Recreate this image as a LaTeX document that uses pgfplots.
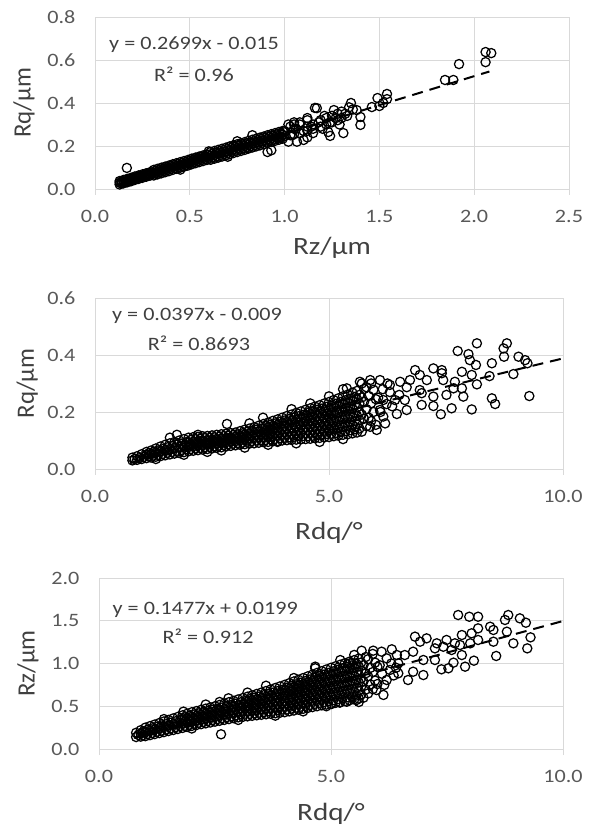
\documentclass[border=0pt]{standalone}
\usepackage{pgfplots}
\pgfplotsset{compat=1.18}
\usepackage{fontspec}
\setmainfont[FakeStretch=1.17]{Carlito}
\newfontfamily\ylabfont{Carlito}
\definecolor{gridc}{RGB}{217,217,217}
\definecolor{tickc}{RGB}{89,89,89}
\definecolor{titc}{RGB}{64,64,64}
\tikzset{eq/.style={font=\fontsize{19}{19}\selectfont, text=titc, anchor=center}}
\pgfplotsset{
  every axis y label/.style={at={(axis description cs:-0.15,0.5)}, rotate=90, anchor=center,
     font=\ylabfont\fontsize{25}{25}\selectfont, text=titc},
  every axis x label/.style={at={(axis description cs:0.5,0)}, anchor=base,
     font=\fontsize{25}{25}\selectfont, text=titc},
  panel/.style={
    scale only axis, anchor=south west,
    xmin=0, ymin=0,
    grid=major,
    major grid style={draw=gridc, line width=0.9bp},
    axis line style={draw=none},
    tick align=outside,
    xtick pos=left, ytick pos=left,
    ytick style={draw=none},
    xtick style={draw=gridc, line width=0.9bp},
    major tick length=6bp,
    ticklabel style={font=\fontsize{19}{19}\selectfont, text=tickc},
    xticklabel style={yshift=-12bp},
    yticklabel style={xshift=-10bp},
    /pgf/number format/fixed, /pgf/number format/fixed zerofill,
    /pgf/number format/precision=1, /pgf/number format/assume math mode=true,
  },
  pts/.style={only marks, mark=o, mark size=4.6bp, mark options={draw=black, line width=1.25bp}},
  trend/.style={black, line width=2bp, dash pattern=on 11bp off 7bp},
}
\begin{document}
\begin{tikzpicture}
\useasboundingbox (0,0) rectangle (590bp,829bp);
% ---------------- Panel 1 ----------------
\begin{axis}[panel, at={(95bp,640bp)}, width=474bp, height=172bp,
  xmax=2.5, ymax=0.8, xtick={0,0.5,1,1.5,2,2.5}, ytick={0,0.2,0.4,0.6,0.8},
  xlabel={Rz/μm}, ylabel={Rq/μm},
  xlabel style={yshift=-66bp}, ylabel style={at={(axis description cs:-0.150,0.5)}}]
\addplot[pts] coordinates {
(0.13,0.021)(0.13,0.029)(0.13,0.037)(0.14,0.027)(0.14,0.035)
(0.15,0.026)(0.15,0.034)(0.15,0.042)(0.16,0.033)(0.16,0.041)
(0.17,0.031)(0.17,0.039)(0.17,0.047)(0.18,0.038)(0.18,0.046)
(0.19,0.036)(0.19,0.044)(0.19,0.052)(0.20,0.043)(0.20,0.051)
(0.21,0.042)(0.21,0.050)(0.21,0.058)(0.22,0.048)(0.22,0.056)
(0.23,0.047)(0.23,0.055)(0.23,0.063)(0.24,0.053)(0.24,0.061)
(0.25,0.052)(0.25,0.060)(0.25,0.068)(0.26,0.059)(0.26,0.067)
(0.27,0.057)(0.27,0.065)(0.27,0.073)(0.28,0.064)(0.28,0.072)
(0.29,0.062)(0.29,0.070)(0.29,0.078)(0.30,0.069)(0.30,0.077)
(0.31,0.063)(0.31,0.076)(0.31,0.089)(0.32,0.072)(0.32,0.085)
(0.33,0.068)(0.33,0.081)(0.33,0.094)(0.34,0.077)(0.34,0.090)
(0.35,0.073)(0.35,0.086)(0.35,0.099)(0.36,0.082)(0.36,0.095)
(0.37,0.078)(0.37,0.091)(0.37,0.104)(0.38,0.087)(0.38,0.100)
(0.39,0.083)(0.39,0.096)(0.39,0.109)(0.40,0.093)(0.40,0.106)
(0.41,0.089)(0.41,0.102)(0.41,0.115)(0.42,0.098)(0.42,0.111)
(0.43,0.094)(0.43,0.107)(0.43,0.120)(0.44,0.103)(0.44,0.116)
(0.45,0.099)(0.45,0.112)(0.45,0.125)(0.46,0.108)(0.46,0.121)
(0.47,0.104)(0.47,0.117)(0.47,0.130)(0.48,0.113)(0.48,0.126)
(0.49,0.109)(0.49,0.122)(0.49,0.135)(0.50,0.119)(0.50,0.132)
(0.51,0.115)(0.51,0.128)(0.51,0.141)(0.52,0.124)(0.52,0.137)
(0.53,0.120)(0.53,0.133)(0.53,0.146)(0.54,0.129)(0.54,0.142)
(0.55,0.125)(0.55,0.138)(0.55,0.151)(0.56,0.134)(0.56,0.147)
(0.57,0.130)(0.57,0.143)(0.57,0.156)(0.58,0.139)(0.58,0.152)
(0.59,0.135)(0.59,0.148)(0.59,0.161)(0.60,0.145)(0.60,0.158)
(0.61,0.136)(0.61,0.154)(0.61,0.172)(0.62,0.147)(0.62,0.165)
(0.63,0.141)(0.63,0.159)(0.63,0.177)(0.64,0.152)(0.64,0.170)
(0.65,0.146)(0.65,0.164)(0.65,0.182)(0.66,0.158)(0.66,0.176)
(0.67,0.151)(0.67,0.169)(0.67,0.187)(0.68,0.163)(0.68,0.181)
(0.69,0.156)(0.69,0.174)(0.69,0.192)(0.70,0.168)(0.70,0.186)
(0.71,0.162)(0.71,0.180)(0.71,0.198)(0.72,0.173)(0.72,0.191)
(0.73,0.167)(0.73,0.185)(0.73,0.203)(0.74,0.178)(0.74,0.196)
(0.75,0.172)(0.75,0.190)(0.75,0.208)(0.76,0.184)(0.76,0.202)
(0.77,0.177)(0.77,0.195)(0.77,0.213)(0.78,0.189)(0.78,0.207)
(0.79,0.182)(0.79,0.200)(0.79,0.218)(0.80,0.194)(0.80,0.212)
(0.81,0.188)(0.81,0.206)(0.81,0.224)(0.82,0.199)(0.82,0.217)
(0.83,0.193)(0.83,0.211)(0.83,0.229)(0.84,0.204)(0.84,0.222)
(0.85,0.198)(0.85,0.216)(0.85,0.234)(0.86,0.210)(0.86,0.228)
(0.87,0.203)(0.87,0.221)(0.87,0.239)(0.88,0.215)(0.88,0.233)
(0.89,0.208)(0.89,0.226)(0.89,0.244)(0.90,0.220)(0.90,0.238)
(0.91,0.214)(0.91,0.232)(0.91,0.250)(0.92,0.225)(0.92,0.243)
(0.93,0.219)(0.93,0.237)(0.93,0.255)(0.94,0.230)(0.94,0.248)
(0.95,0.224)(0.95,0.242)(0.95,0.260)(0.96,0.236)(0.96,0.254)
(0.97,0.229)(0.97,0.247)(0.97,0.265)(0.98,0.241)(0.98,0.259)
(0.99,0.234)(0.99,0.252)(0.99,0.270)(1.00,0.246)(1.00,0.264)
(0.60,0.175)(0.45,0.090)(0.75,0.222)(0.70,0.150)
(1.03,0.250)(1.03,0.290)(1.05,0.255)(1.05,0.300)(1.05,0.280)
(1.08,0.26)(1.08,0.31)(1.12,0.27)(1.12,0.29)(1.12,0.32)(1.15,0.28)(1.15,0.30)(1.19,0.29)(1.19,0.32)
(1.22,0.30)(1.22,0.33)(1.25,0.31)(1.25,0.34)(1.28,0.32)(1.28,0.35)(1.30,0.33)(1.32,0.35)
(0.168,0.098)
(2.06,0.637)(2.09,0.632)(2.06,0.59)(1.92,0.581)(1.846,0.507)(1.89,0.507)
(1.49,0.423)(1.54,0.442)(1.54,0.418)(1.46,0.381)(1.52,0.40)(1.50,0.386)
(1.35,0.40)(1.34,0.38)(1.40,0.335)(1.40,0.298)(1.38,0.367)(1.31,0.26)(1.24,0.247)(1.23,0.265)
(1.17,0.376)(1.26,0.367)(1.10,0.228)(1.065,0.22)(1.16,0.377)(0.91,0.172)(0.93,0.18)(1.02,0.22)(0.83,0.25)
(1.08,0.30)(1.10,0.27)(1.12,0.33)(1.14,0.29)(1.15,0.26)(1.18,0.31)(1.20,0.28)(1.21,0.34)(1.24,0.31)
(1.27,0.33)(1.29,0.30)(1.30,0.36)(1.33,0.34)(1.36,0.37)(1.12,0.24)(1.06,0.28)(1.04,0.25)(1.00,0.27)
(0.97,0.24)(1.02,0.30)(1.05,0.31)
};
\addplot[trend] coordinates {(0.13,0.0201)(2.08,0.5464)};
\node[eq] at (rel axis cs:0.209,0.837) {y = 0.2699x - 0.015};
\node[eq] at (rel axis cs:0.209,0.669) {R² = 0.96};
\end{axis}
% ---------------- Panel 2 ----------------
\begin{axis}[panel, at={(95bp,360bp)}, width=468bp, height=171bp,
  xmax=10, ymax=0.6, xtick={0,5,10}, ytick={0,0.2,0.4,0.6},
  xlabel={Rdq/°}, ylabel={Rq/μm},
  xlabel style={yshift=-71bp}, ylabel style={at={(axis description cs:-0.145,0.5)}}]
\addplot[pts] coordinates {
(0.8,0.030)(0.8,0.040)(0.85,0.035)
(0.9,0.032)(0.9,0.045)(0.95,0.038)
(1.0,0.035)(1.0,0.052)(1.05,0.043)
(1.1,0.038)(1.1,0.050)(1.1,0.060)(1.15,0.044)(1.15,0.055)
(1.2,0.040)(1.2,0.053)(1.2,0.065)(1.25,0.047)(1.25,0.060)
(1.3,0.043)(1.3,0.058)(1.3,0.072)(1.35,0.050)(1.35,0.065)
(1.4,0.045)(1.4,0.062)(1.4,0.079)(1.45,0.053)(1.45,0.070)
(1.5,0.048)(1.5,0.066)(1.5,0.085)(1.55,0.057)(1.55,0.076)
(1.6,0.051)(1.6,0.070)(1.6,0.090)(1.65,0.060)(1.65,0.080)
(1.7,0.054)(1.7,0.074)(1.7,0.095)(1.75,0.064)(1.75,0.085)
(1.8,0.056)(1.8,0.078)(1.8,0.100)(1.85,0.067)(1.85,0.089)
(1.9,0.059)(1.9,0.082)(1.9,0.105)(1.95,0.070)(1.95,0.094)
(2.0,0.062)(2.0,0.078)(2.0,0.094)(2.0,0.110)(2.05,0.070)(2.05,0.086)(2.05,0.102)
(2.1,0.064)(2.1,0.080)(2.1,0.096)(2.1,0.112)(2.15,0.072)(2.15,0.088)(2.15,0.104)
(2.2,0.066)(2.2,0.082)(2.2,0.098)(2.2,0.113)(2.25,0.074)(2.25,0.090)(2.25,0.106)
(2.3,0.068)(2.3,0.084)(2.3,0.100)(2.3,0.115)(2.35,0.076)(2.35,0.092)(2.35,0.108)
(2.4,0.070)(2.4,0.085)(2.4,0.101)(2.4,0.116)(2.45,0.078)(2.45,0.093)(2.45,0.109)
(2.5,0.072)(2.5,0.087)(2.5,0.103)(2.5,0.118)(2.55,0.080)(2.55,0.095)(2.55,0.111)
(2.6,0.074)(2.6,0.089)(2.6,0.105)(2.6,0.120)(2.65,0.082)(2.65,0.097)(2.65,0.113)
(2.7,0.076)(2.7,0.091)(2.7,0.107)(2.7,0.122)(2.75,0.084)(2.75,0.099)(2.75,0.115)
(2.8,0.079)(2.8,0.094)(2.8,0.109)(2.8,0.124)(2.85,0.087)(2.85,0.102)(2.85,0.117)
(2.9,0.081)(2.9,0.096)(2.9,0.111)(2.9,0.126)(2.95,0.089)(2.95,0.104)(2.95,0.119)
(3.0,0.083)(3.0,0.098)(3.0,0.113)(3.0,0.128)(3.05,0.091)(3.05,0.106)(3.05,0.121)
(3.1,0.085)(3.1,0.101)(3.1,0.117)(3.1,0.133)(3.15,0.093)(3.15,0.109)(3.15,0.125)
(3.2,0.087)(3.2,0.104)(3.2,0.121)(3.2,0.138)(3.25,0.096)(3.25,0.113)(3.25,0.130)
(3.3,0.089)(3.3,0.107)(3.3,0.125)(3.3,0.142)(3.35,0.098)(3.35,0.116)(3.35,0.134)
(3.4,0.090)(3.4,0.109)(3.4,0.128)(3.4,0.147)(3.45,0.100)(3.45,0.119)(3.45,0.138)
(3.5,0.092)(3.5,0.112)(3.5,0.132)(3.5,0.152)(3.55,0.102)(3.55,0.122)(3.55,0.142)
(3.6,0.094)(3.6,0.110)(3.6,0.126)(3.6,0.142)(3.6,0.158)(3.65,0.102)(3.65,0.118)(3.65,0.134)(3.65,0.150)
(3.7,0.095)(3.7,0.112)(3.7,0.129)(3.7,0.146)(3.7,0.163)(3.75,0.104)(3.75,0.121)(3.75,0.138)(3.75,0.155)
(3.8,0.097)(3.8,0.115)(3.8,0.133)(3.8,0.151)(3.8,0.169)(3.85,0.106)(3.85,0.124)(3.85,0.142)(3.85,0.160)
(3.9,0.098)(3.9,0.117)(3.9,0.136)(3.9,0.155)(3.9,0.174)(3.95,0.108)(3.95,0.127)(3.95,0.146)(3.95,0.165)
(4.0,0.100)(4.0,0.120)(4.0,0.140)(4.0,0.160)(4.0,0.180)(4.05,0.110)(4.05,0.130)(4.05,0.150)(4.05,0.170)
(4.1,0.101)(4.1,0.122)(4.1,0.143)(4.1,0.165)(4.1,0.186)(4.15,0.111)(4.15,0.132)(4.15,0.154)(4.15,0.175)
(4.2,0.102)(4.2,0.124)(4.2,0.146)(4.2,0.169)(4.2,0.191)(4.25,0.113)(4.25,0.135)(4.25,0.157)(4.25,0.180)
(4.3,0.103)(4.3,0.126)(4.3,0.150)(4.3,0.173)(4.3,0.197)(4.35,0.115)(4.35,0.138)(4.35,0.162)(4.35,0.185)
(4.4,0.104)(4.4,0.128)(4.4,0.153)(4.4,0.177)(4.4,0.202)(4.45,0.116)(4.45,0.141)(4.45,0.165)(4.45,0.190)
(4.5,0.105)(4.5,0.126)(4.5,0.146)(4.5,0.167)(4.5,0.187)(4.5,0.208)(4.55,0.115)(4.55,0.136)(4.55,0.156)(4.55,0.177)(4.55,0.197)
(4.6,0.106)(4.6,0.127)(4.6,0.149)(4.6,0.170)(4.6,0.192)(4.6,0.213)(4.65,0.117)(4.65,0.138)(4.65,0.160)(4.65,0.181)(4.65,0.203)
(4.7,0.108)(4.7,0.130)(4.7,0.152)(4.7,0.175)(4.7,0.197)(4.7,0.219)(4.75,0.119)(4.75,0.141)(4.75,0.164)(4.75,0.186)(4.75,0.208)
(4.8,0.109)(4.8,0.132)(4.8,0.155)(4.8,0.178)(4.8,0.201)(4.8,0.224)(4.85,0.120)(4.85,0.143)(4.85,0.166)(4.85,0.189)(4.85,0.212)
(4.9,0.111)(4.9,0.135)(4.9,0.159)(4.9,0.182)(4.9,0.206)(4.9,0.230)(4.95,0.123)(4.95,0.147)(4.95,0.170)(4.95,0.194)(4.95,0.218)
(5.0,0.112)(5.0,0.137)(5.0,0.161)(5.0,0.186)(5.0,0.210)(5.0,0.235)(5.05,0.124)(5.05,0.149)(5.05,0.173)(5.05,0.198)(5.05,0.222)
(5.1,0.115)(5.1,0.140)(5.1,0.166)(5.1,0.191)(5.1,0.217)(5.1,0.242)(5.15,0.127)(5.15,0.153)(5.15,0.178)(5.15,0.204)(5.15,0.229)
(5.2,0.117)(5.2,0.143)(5.2,0.169)(5.2,0.196)(5.2,0.222)(5.2,0.248)(5.25,0.130)(5.25,0.156)(5.25,0.183)(5.25,0.209)(5.25,0.235)
(5.3,0.120)(5.3,0.147)(5.3,0.174)(5.3,0.201)(5.3,0.228)(5.3,0.255)(5.35,0.133)(5.35,0.160)(5.35,0.187)(5.35,0.214)(5.35,0.241)
(5.4,0.122)(5.4,0.150)(5.4,0.178)(5.4,0.205)(5.4,0.233)(5.4,0.261)(5.45,0.136)(5.45,0.164)(5.45,0.191)(5.45,0.219)(5.45,0.247)
(5.5,0.125)(5.5,0.154)(5.5,0.182)(5.5,0.211)(5.5,0.239)(5.5,0.268)(5.55,0.139)(5.55,0.168)(5.55,0.196)(5.55,0.225)(5.55,0.253)
(5.6,0.128)(5.6,0.157)(5.6,0.186)(5.6,0.216)(5.6,0.245)(5.6,0.274)(5.65,0.142)(5.65,0.172)(5.65,0.201)(5.65,0.230)(5.65,0.260)
(5.7,0.131)(5.7,0.191)(5.7,0.251)(5.75,0.176)(5.75,0.236)(5.75,0.281)
(5.8,0.150)(5.8,0.210)(5.8,0.287)(5.85,0.180)(5.85,0.256)
(5.9,0.168)(5.9,0.231)(5.9,0.300)(5.95,0.200)(5.95,0.278)
(6.0,0.155)(6.0,0.245)
(6.05,0.250)(6.10,0.200)(6.15,0.280)(6.20,0.160)(6.35,0.220)(6.25,0.300)
(1.6,0.110)(1.75,0.120)(2.2,0.120)(2.82,0.158)(3.3,0.160)(3.59,0.180)(2.4,0.060)(3.7,0.085)(4.3,0.090)
(4.8,0.095)(5.3,0.105)(4.2,0.210)(4.6,0.230)(5.0,0.255)(5.3,0.280)(5.7,0.300)(2.7,0.065)(3.2,0.075)
(1.3,0.035)(1.9,0.050)(3.9,0.095)
(8.16,0.441)(8.80,0.441)(8.73,0.423)(7.75,0.414)(7.98,0.403)(8.01,0.382)(8.14,0.365)(9.05,0.394)
(9.19,0.382)(9.24,0.371)(8.74,0.394)(8.48,0.371)(8.94,0.333)(8.43,0.326)(8.16,0.297)(7.84,0.341)
(8.05,0.330)(9.28,0.256)(8.48,0.248)(8.55,0.228)(8.05,0.209)(7.62,0.213)(7.39,0.192)(7.23,0.221)
(6.98,0.225)(6.66,0.207)(6.45,0.193)(6.23,0.228)(7.69,0.306)(7.87,0.254)(7.66,0.283)(7.41,0.347)
(7.41,0.336)(7.23,0.353)(7.09,0.312)(6.94,0.277)(6.84,0.347)(6.94,0.330)(7.51,0.260)(7.44,0.312)
(7.23,0.254)(6.98,0.266)(6.66,0.287)(6.73,0.312)(6.52,0.306)(6.62,0.242)(6.41,0.242)(6.30,0.295)
(6.09,0.312)(5.88,0.312)(5.66,0.306)(5.38,0.283)(6.16,0.242)(6.09,0.207)(6.02,0.137)(5.88,0.148)
(6.16,0.184)(5.56,0.148)(5.02,0.137)(7.84,0.283)(6.50,0.260)(6.30,0.270)
};
\addplot[trend] coordinates {(0.75,0.0208)(10,0.388)};
\node[eq] at (rel axis cs:0.218,0.895) {y = 0.0397x - 0.009};
\node[eq] at (rel axis cs:0.222,0.737) {R² = 0.8693};
\end{axis}
% ---------------- Panel 3 ----------------
\begin{axis}[panel, at={(99bp,80bp)}, width=464bp, height=171bp,
  xmax=10, ymax=2, xtick={0,5,10}, ytick={0,0.5,1,1.5,2},
  xlabel={Rdq/°}, ylabel={Rz/μm},
  xlabel style={yshift=-71bp}, ylabel style={at={(axis description cs:-0.153,0.5)}}]
\addplot[pts] coordinates {
(0.8,0.14)(0.8,0.19)(0.85,0.165)
(0.9,0.145)(0.9,0.18)(0.9,0.22)(0.95,0.16)(0.95,0.20)
(1.0,0.15)(1.0,0.20)(1.0,0.25)(1.05,0.175)(1.05,0.225)
(1.1,0.162)(1.1,0.215)(1.1,0.268)(1.15,0.188)(1.15,0.241)
(1.2,0.174)(1.2,0.230)(1.2,0.286)(1.25,0.202)(1.25,0.258)
(1.3,0.186)(1.3,0.245)(1.3,0.304)(1.35,0.215)(1.35,0.275)
(1.4,0.198)(1.4,0.260)(1.4,0.322)(1.45,0.229)(1.45,0.291)
(1.5,0.210)(1.5,0.275)(1.5,0.340)(1.55,0.243)(1.55,0.308)
(1.6,0.222)(1.6,0.290)(1.6,0.358)(1.65,0.256)(1.65,0.324)
(1.7,0.234)(1.7,0.305)(1.7,0.376)(1.75,0.270)(1.75,0.340)
(1.8,0.246)(1.8,0.295)(1.8,0.345)(1.8,0.394)(1.85,0.270)(1.85,0.320)(1.85,0.370)
(1.9,0.258)(1.9,0.309)(1.9,0.361)(1.9,0.412)(1.95,0.284)(1.95,0.335)(1.95,0.386)
(2.0,0.270)(2.0,0.323)(2.0,0.377)(2.0,0.430)(2.05,0.297)(2.05,0.350)(2.05,0.404)
(2.1,0.280)(2.1,0.335)(2.1,0.389)(2.1,0.444)(2.15,0.307)(2.15,0.362)(2.15,0.417)
(2.2,0.290)(2.2,0.346)(2.2,0.402)(2.2,0.458)(2.25,0.318)(2.25,0.374)(2.25,0.430)
(2.3,0.300)(2.3,0.357)(2.3,0.415)(2.3,0.472)(2.35,0.329)(2.35,0.386)(2.35,0.443)
(2.4,0.310)(2.4,0.369)(2.4,0.427)(2.4,0.486)(2.45,0.339)(2.45,0.398)(2.45,0.457)
(2.5,0.320)(2.5,0.380)(2.5,0.440)(2.5,0.500)(2.55,0.350)(2.55,0.410)(2.55,0.470)
(2.6,0.330)(2.6,0.392)(2.6,0.454)(2.6,0.516)(2.65,0.361)(2.65,0.423)(2.65,0.485)
(2.7,0.340)(2.7,0.404)(2.7,0.468)(2.7,0.532)(2.75,0.372)(2.75,0.436)(2.75,0.500)
(2.8,0.350)(2.8,0.416)(2.8,0.482)(2.8,0.548)(2.85,0.383)(2.85,0.449)(2.85,0.515)
(2.9,0.360)(2.9,0.428)(2.9,0.496)(2.9,0.564)(2.95,0.394)(2.95,0.462)(2.95,0.530)
(3.0,0.370)(3.0,0.440)(3.0,0.510)(3.0,0.580)(3.05,0.405)(3.05,0.475)(3.05,0.545)
(3.1,0.376)(3.1,0.449)(3.1,0.523)(3.1,0.596)(3.15,0.413)(3.15,0.486)(3.15,0.559)
(3.2,0.382)(3.2,0.439)(3.2,0.497)(3.2,0.554)(3.2,0.612)(3.25,0.411)(3.25,0.468)(3.25,0.526)(3.25,0.583)
(3.3,0.388)(3.3,0.448)(3.3,0.508)(3.3,0.568)(3.3,0.628)(3.35,0.418)(3.35,0.478)(3.35,0.538)(3.35,0.598)
(3.4,0.394)(3.4,0.457)(3.4,0.519)(3.4,0.582)(3.4,0.644)(3.45,0.425)(3.45,0.488)(3.45,0.550)(3.45,0.613)
(3.5,0.400)(3.5,0.465)(3.5,0.530)(3.5,0.595)(3.5,0.660)(3.55,0.433)(3.55,0.498)(3.55,0.563)(3.55,0.628)
(3.6,0.406)(3.6,0.474)(3.6,0.542)(3.6,0.610)(3.6,0.678)(3.65,0.440)(3.65,0.508)(3.65,0.576)(3.65,0.644)
(3.7,0.412)(3.7,0.483)(3.7,0.554)(3.7,0.625)(3.7,0.696)(3.75,0.447)(3.75,0.518)(3.75,0.589)(3.75,0.660)
(3.8,0.418)(3.8,0.492)(3.8,0.566)(3.8,0.640)(3.8,0.714)(3.85,0.455)(3.85,0.529)(3.85,0.603)(3.85,0.677)
(3.9,0.424)(3.9,0.501)(3.9,0.578)(3.9,0.655)(3.9,0.732)(3.95,0.462)(3.95,0.539)(3.95,0.616)(3.95,0.693)
(4.0,0.430)(4.0,0.494)(4.0,0.558)(4.0,0.622)(4.0,0.686)(4.0,0.750)(4.05,0.462)(4.05,0.526)(4.05,0.590)(4.05,0.654)(4.05,0.718)
(4.1,0.440)(4.1,0.506)(4.1,0.572)(4.1,0.638)(4.1,0.704)(4.1,0.770)(4.15,0.473)(4.15,0.539)(4.15,0.605)(4.15,0.671)(4.15,0.737)
(4.2,0.450)(4.2,0.518)(4.2,0.586)(4.2,0.654)(4.2,0.722)(4.2,0.790)(4.25,0.484)(4.25,0.552)(4.25,0.620)(4.25,0.688)(4.25,0.756)
(4.3,0.460)(4.3,0.530)(4.3,0.600)(4.3,0.670)(4.3,0.740)(4.3,0.810)(4.35,0.495)(4.35,0.565)(4.35,0.635)(4.35,0.705)(4.35,0.775)
(4.4,0.470)(4.4,0.542)(4.4,0.614)(4.4,0.686)(4.4,0.758)(4.4,0.830)(4.45,0.506)(4.45,0.578)(4.45,0.650)(4.45,0.722)(4.45,0.794)
(4.5,0.480)(4.5,0.554)(4.5,0.628)(4.5,0.702)(4.5,0.776)(4.5,0.850)(4.55,0.517)(4.55,0.591)(4.55,0.665)(4.55,0.739)(4.55,0.813)
(4.6,0.490)(4.6,0.566)(4.6,0.642)(4.6,0.718)(4.6,0.794)(4.6,0.870)(4.65,0.528)(4.65,0.604)(4.65,0.680)(4.65,0.756)(4.65,0.832)
(4.7,0.500)(4.7,0.578)(4.7,0.656)(4.7,0.734)(4.7,0.812)(4.7,0.890)(4.75,0.539)(4.75,0.617)(4.75,0.695)(4.75,0.773)(4.75,0.851)
(4.8,0.510)(4.8,0.590)(4.8,0.670)(4.8,0.750)(4.8,0.830)(4.8,0.910)(4.85,0.550)(4.85,0.630)(4.85,0.710)(4.85,0.790)(4.85,0.870)
(4.9,0.520)(4.9,0.602)(4.9,0.684)(4.9,0.766)(4.9,0.848)(4.9,0.930)(4.95,0.561)(4.95,0.643)(4.95,0.725)(4.95,0.807)(4.95,0.889)
(5.0,0.530)(5.0,0.614)(5.0,0.698)(5.0,0.782)(5.0,0.866)(5.0,0.950)(5.05,0.572)(5.05,0.656)(5.05,0.740)(5.05,0.824)(5.05,0.908)
(5.1,0.540)(5.1,0.626)(5.1,0.711)(5.1,0.797)(5.1,0.882)(5.1,0.968)(5.15,0.583)(5.15,0.668)(5.15,0.754)(5.15,0.840)(5.15,0.925)
(5.2,0.550)(5.2,0.637)(5.2,0.724)(5.2,0.812)(5.2,0.899)(5.2,0.986)(5.25,0.594)(5.25,0.681)(5.25,0.768)(5.25,0.855)(5.25,0.942)
(5.3,0.560)(5.3,0.649)(5.3,0.738)(5.3,0.826)(5.3,0.915)(5.3,1.004)(5.35,0.604)(5.35,0.693)(5.35,0.782)(5.35,0.871)(5.35,0.960)
(5.4,0.570)(5.4,0.660)(5.4,0.751)(5.4,0.841)(5.4,0.932)(5.4,1.022)(5.45,0.615)(5.45,0.706)(5.45,0.796)(5.45,0.887)(5.45,0.977)
(5.5,0.580)(5.5,0.672)(5.5,0.764)(5.5,0.856)(5.5,0.948)(5.5,1.040)(5.55,0.626)(5.55,0.718)(5.55,0.810)(5.55,0.902)(5.55,0.994)
(5.6,0.590)(5.6,0.684)(5.6,0.777)(5.6,0.871)(5.6,0.964)(5.6,1.058)(5.65,0.637)(5.65,0.730)(5.65,0.824)(5.65,0.917)(5.65,1.011)
(5.7,0.600)(5.7,0.790)(5.7,0.981)(5.75,0.695)(5.75,0.886)(5.75,1.076)
(5.8,0.650)(5.8,0.850)(5.8,1.050)(5.85,0.755)(5.85,0.949)
(5.9,0.700)(5.9,0.900)(5.9,1.112)(5.95,0.800)(5.95,1.010)
(6.0,0.760)(6.0,0.960)
(6.05,0.980)(6.10,0.880)(6.15,0.750)(6.30,1.000)(6.35,0.860)(6.40,0.950)
(2.3,0.52)(3.2,0.66)(3.6,0.74)(2.0,0.24)(3.0,0.34)(3.8,0.39)(4.4,0.44)(1.4,0.35)(2.6,0.55)
(4.2,0.83)(5.2,1.04)(5.5,1.10)(4.9,0.50)(5.6,0.55)
(7.74,1.567)(7.98,1.547)(8.17,1.547)(8.82,1.567)(8.75,1.509)(9.07,1.528)(9.20,1.477)(8.43,1.430)
(8.50,1.392)(8.17,1.411)(8.03,1.353)(8.00,1.236)(8.17,1.275)(8.79,1.372)(8.50,1.255)(8.93,1.236)
(9.30,1.306)(9.23,1.177)(8.56,1.088)(8.08,1.033)(7.89,0.963)(7.64,1.010)(7.53,0.944)(7.38,0.932)
(6.99,0.865)(6.77,0.904)(6.66,0.807)(6.45,0.885)(7.82,1.099)(7.67,1.236)(7.78,1.216)(7.82,1.333)
(7.49,1.275)(7.28,1.236)(7.06,1.294)(6.81,1.314)(6.92,1.255)(7.24,1.177)(7.42,1.196)(7.60,1.158)
(7.24,1.041)(6.99,1.041)(6.77,1.138)(6.59,1.099)(6.42,1.099)(6.31,1.166)(6.09,1.138)(5.91,1.150)
(5.66,1.150)(6.20,1.060)(6.45,1.002)(6.13,0.632)(5.98,0.690)(6.20,0.807)(6.27,0.924)(5.55,0.573)
(5.34,0.553)(5.19,0.542)(5.01,0.526)(4.66,0.944)(5.41,1.002)
(2.63,0.172)(4.66,0.963)(2.79,0.593)(1.82,0.437)
};
\addplot[trend] coordinates {(0.75,0.1307)(10,1.4969)};
\node[eq] at (rel axis cs:0.229,0.813) {y = 0.1477x + 0.0199};
\node[eq] at (rel axis cs:0.235,0.661) {R² = 0.912};
\end{axis}
\end{tikzpicture}
\end{document}
